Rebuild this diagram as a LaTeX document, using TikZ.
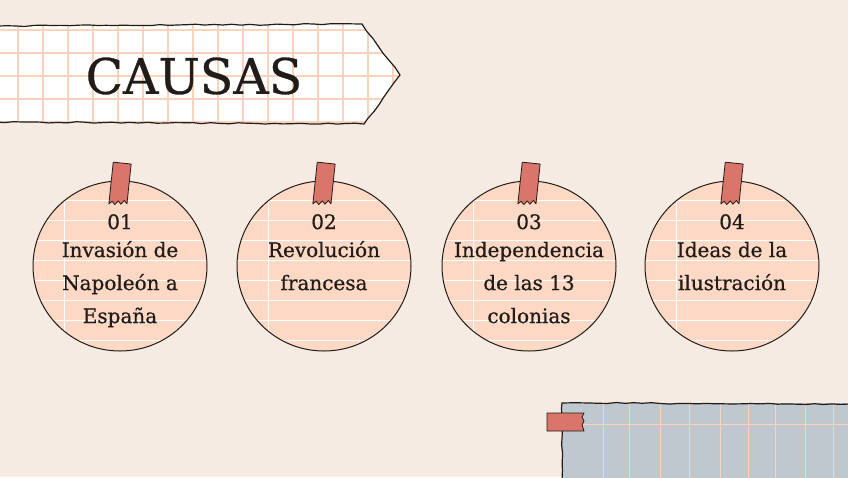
\documentclass[tikz,border=0pt]{standalone}
\usepackage{fontspec}
\setmainfont{DejaVu Serif}[FakeBold=0.6]
\usetikzlibrary{decorations.pathmorphing}

\definecolor{bgcol}{HTML}{F5EBE2}
\definecolor{inkcol}{HTML}{221C19}
\definecolor{peachcol}{HTML}{FDD8C4}
\definecolor{gridcol}{HTML}{FBD3BD}
\definecolor{tapecol}{HTML}{D9756B}
\definecolor{panelcol}{HTML}{BFC8CF}

\begin{document}
\begin{tikzpicture}[x=1pt,y=-1pt,
  ink/.style={draw=inkcol,line width=1.2pt},
  shaky/.style={decorate,decoration={random steps,segment length=9pt,amplitude=0.7pt}},
  tape/.style={fill=tapecol,draw=inkcol,line width=0.8pt,line join=round},
  causa/.style={text=inkcol,align=center,inner sep=0pt,anchor=north,font=\fontsize{20}{33}\selectfont}]
\useasboundingbox (0,0) rectangle (848,477);
\fill[bgcol] (0,0) rectangle (848,477);

% title banner
\begin{scope}
\clip (-2,26) -- (362,24) -- (400,75) -- (364,124) -- (-2,122) -- cycle;
\fill[white] (-2,20) rectangle (410,130);
\foreach \x in {18,43,...,400} \draw[gridcol,line width=1.3pt] (\x,20) -- (\x,130);
\foreach \y in {30,53,...,125} \draw[gridcol,line width=1.3pt] (-2,\y) -- (410,\y);
\end{scope}
\draw[ink,shaky] (-2,26) -- (362,24) -- (400,75) -- (364,124) -- (-2,122);
\node[text=inkcol,inner sep=0pt,font=\fontsize{49}{52}\selectfont] (title) at (194,76) {CAUSAS};

% the four causes
\foreach \cx/\num/\txt [count=\i] in {120/01/{Invasión de\\Napoleón a\\España},
    324/02/{Revolución\\francesa},
    529/03/{Independencia\\de las 13\\colonias},
    732/04/{Ideas de la\\ilustración}} {
  \begin{scope}
  \clip (\cx,266) ellipse (87 and 85);
  \fill[peachcol] (\cx,266) ellipse (87 and 85);
  \foreach \y in {200,220,...,350} \draw[white,line width=0.9pt] (\cx-95,\y) -- (\cx+95,\y);
  \draw[white,line width=0.9pt] (\cx-56,175) -- (\cx-56,360);
  \end{scope}
  \draw[inkcol,line width=1pt] (\cx,266) ellipse (87 and 85);
  \draw[tape,rotate around={-6:(\cx,184)}] (\cx-9,163) -- (\cx+9,163) -- (\cx+9,203)
    -- (\cx+6,200) -- (\cx+3,204) -- (\cx,201) -- (\cx-3,205) -- (\cx-6,202) -- (\cx-9,205) -- cycle;
  \node[causa] (causa\i) at (\cx,214) {\num\\[-5pt]\txt};
}

% note card in the corner
\begin{scope}
\clip (562,403) rectangle (850,480);
\fill[panelcol] (562,403) rectangle (850,480);
\foreach \x in {603,629,660,689,720,748,775,805,833} \draw[gridcol,line width=1pt] (\x,403) -- (\x,480);
\draw[gridcol,line width=1pt] (562,424) -- (850,424);
\end{scope}
\draw[ink,shaky] (562,480) -- (562,403) -- (850,404);
\draw[tape] (547,413) -- (584,413) -- (582,417) -- (584,421) -- (582,425) -- (584,431) -- (547,431) -- cycle;
\end{tikzpicture}
\end{document}
